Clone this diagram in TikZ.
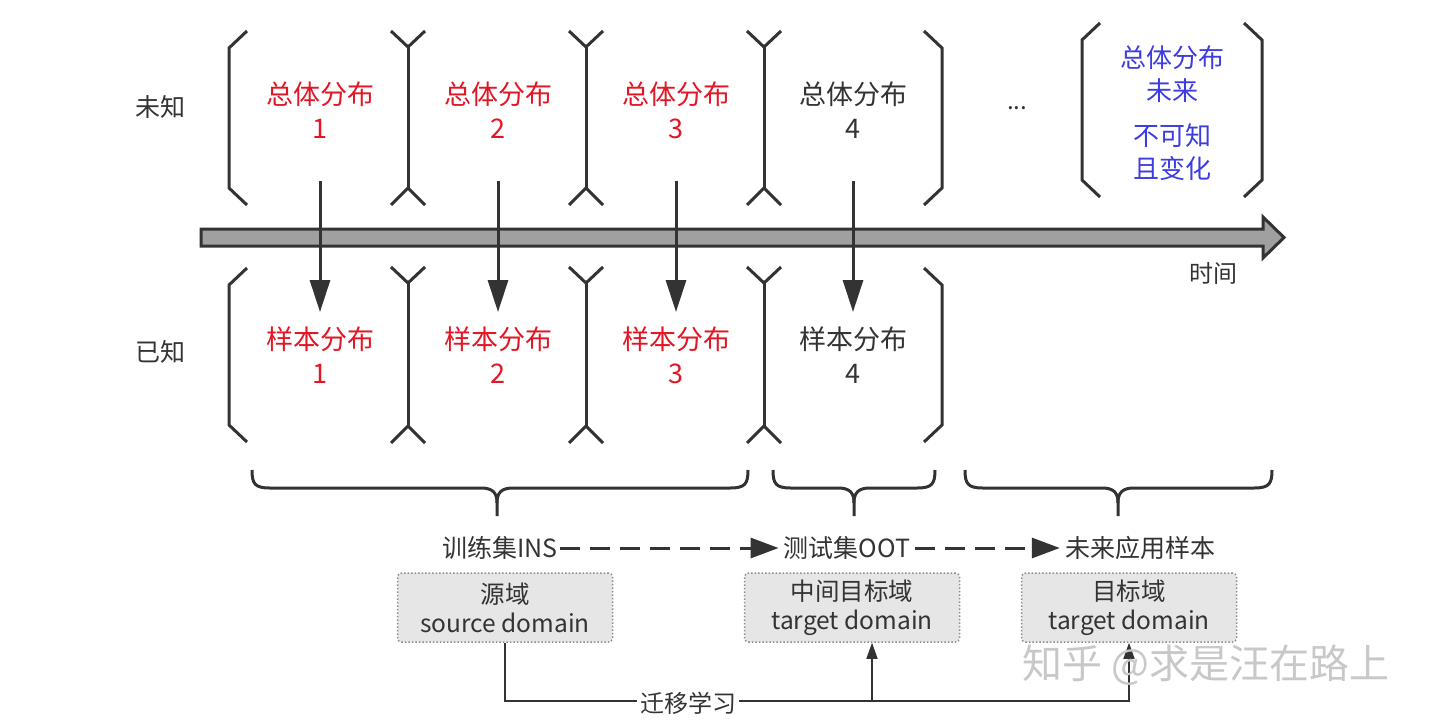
\documentclass[tikz,border=0pt]{standalone}
\usepackage{fontspec}
\newfontfamily\cjk{Noto Sans CJK SC}
\usetikzlibrary{arrows.meta}
\definecolor{lc}{RGB}{51,51,51}
\definecolor{redt}{RGB}{226,22,36}
\definecolor{bluet}{RGB}{60,60,225}
\definecolor{boxf}{RGB}{230,230,230}
\definecolor{boxd}{RGB}{140,140,140}
\definecolor{arrf}{RGB}{160,160,160}
\definecolor{wm}{RGB}{200,200,200}
\newcommand\myfork[3]{% x, top fork end y, bottom fork end y
  \draw[br] ({#1-17},#2) -- (#1,{#2+16}) -- ({#1+17},#2);
  \draw[br] (#1,{#2+16}) -- (#1,{#3-17});
  \draw[br] ({#1-17},#3) -- (#1,{#3-17}) -- ({#1+17},#3);
}
\newcommand\mylbr[3]{% x, top, bottom  (opening bracket)
  \draw[br] ({#1+18},#2) -- (#1,{#2+17}) -- (#1,{#3-17}) -- ({#1+18},#3);
}
\newcommand\myrbr[3]{% x, top, bottom  (closing bracket)
  \draw[br] ({#1-18},#2) -- (#1,{#2+17}) -- (#1,{#3-17}) -- ({#1-18},#3);
}
\newcommand\mybrace[3]{% left x, middle x, right x
  \draw[br] (#1,470) .. controls (#1,484) and ({#1+3},488) .. ({#1+18},488)
     -- ({#2-16},488) .. controls ({#2-4},488) and (#2,493) .. (#2,503) -- (#2,516);
  \draw[br] (#3,470) .. controls (#3,484) and ({#3-3},488) .. ({#3-18},488)
     -- ({#2+16},488) .. controls ({#2+4},488) and (#2,493) .. (#2,503);
}
\begin{document}
\begin{tikzpicture}[x=1pt,y=-1pt,
  br/.style={draw=lc,line width=3pt,line join=miter},
  dist/.style={font=\cjk\fontsize{27}{34}\selectfont,align=center,inner sep=0pt},
  fut/.style={font=\cjk\fontsize{26}{33}\selectfont,align=center,inner sep=0pt,text=bluet},
  lbl/.style={font=\cjk\fontsize{24}{28}\selectfont,text=lc,inner sep=2pt},
  varrow/.style={draw=lc,line width=3pt,-{Triangle[length=32pt,width=20pt]}},
  darrow/.style={draw=lc,line width=3pt,dash pattern=on 20pt off 10pt,-{Triangle[length=28pt,width=20pt]}},
  dom/.style={draw=boxd,dotted,line width=1.5pt,fill=boxf,rounded corners=4pt,
    minimum width=215pt,minimum height=69pt,align=center,
    font=\cjk\fontsize{24.5}{29}\selectfont,text=lc},
  conn/.style={draw=lc,line width=1.6pt},
  carrow/.style={draw=lc,line width=1.6pt,-{Triangle[length=16pt,width=11pt]}}
]
\useasboundingbox (0,0) rectangle (1440,725);

% row labels
\node[lbl,font=\cjk\fontsize{25}{28}\selectfont] (unk) at (160,107) {未知};
\node[lbl,font=\cjk\fontsize{25}{28}\selectfont] (kn) at (160,352) {已知};

% top row brackets
\mylbr{229}{31}{205}
\myfork{408}{31}{205}
\myfork{586}{31}{205}
\myfork{764}{31}{205}
\myrbr{942}{31}{205}
\mylbr{1082}{23}{197}
\myrbr{1262}{23}{197}

% bottom row brackets
\mylbr{229}{268}{442}
\myfork{408}{267}{443}
\myfork{586}{267}{443}
\myfork{764}{267}{443}
\myrbr{942}{268}{442}

% top texts
\node[dist,text=redt] (p1) at (320,110) {总体分布\\1};
\node[dist,text=redt] (p2) at (498,110) {总体分布\\2};
\node[dist,text=redt] (p3) at (676,110) {总体分布\\3};
\node[dist,text=lc] (p4) at (853,110) {总体分布\\4};
\node[lbl] (dots) at (1017,108) {...};
\node[fut] (p5) at (1172,74) {总体分布\\未来};
\node[fut] (p5b) at (1172,152) {不可知\\且变化};

% bottom texts
\node[dist,text=redt] (s1) at (320,355) {样本分布\\1};
\node[dist,text=redt] (s2) at (498,355) {样本分布\\2};
\node[dist,text=redt] (s3) at (676,355) {样本分布\\3};
\node[dist,text=lc] (s4) at (853,355) {样本分布\\4};

% time arrow
\draw[draw=lc,fill=arrf,line width=3pt,line join=miter]
  (201,229) -- (1263,229) -- (1263,217) -- (1284,237.5) -- (1263,258) -- (1263,246) -- (201,246) -- cycle;
\node[lbl] (time) at (1213,273) {时间};

% vertical arrows
\foreach \i/\x in {1/320,2/498,3/676,4/853}{
  \coordinate (a\i) at (\x,181);
  \coordinate (b\i) at (\x,312);
  \draw[varrow] (a\i) -- (b\i);
}

% braces
\mybrace{252}{497}{748}
\mybrace{773}{854}{935}
\mybrace{965}{1118}{1272}

% set labels
\node[lbl,font=\cjk\fontsize{25}{28}\selectfont] (ins) at (500,548) {训练集INS};
\node[lbl,font=\cjk\fontsize{25}{28}\selectfont,inner sep=5pt] (oot) at (847,548) {测试集OOT};
\node[lbl,font=\cjk\fontsize{25}{28}\selectfont,inner sep=5pt] (fut) at (1140,548) {未来应用样本};
\draw[darrow] (ins.east) -- (oot.west);
\draw[darrow] (oot.east) -- (fut.west);

% domain boxes
\node[dom] (d1) at (505,607.5) {源域\\source domain};
\node[dom] (d2) at (852,607.5) {中间目标域\\target domain};
\node[dom] (d3) at (1129,607.5) {目标域\\target domain};

% transfer connector
\coordinate (bl) at (505,701);
\coordinate (bm) at (872,701);
\coordinate (brr) at (1129,701);
\draw[carrow] (d1.south) -- (bl) -- (brr) -- (d3.south);
\draw[carrow] (bm) -- (bm |- d2.south);
\node[lbl,fill=white,inner sep=3pt] (tl) at (688,703) {迁移学习};

% watermark
\node[font=\cjk\fontsize{40}{44}\selectfont,text=wm] (wmk) at (1206,665) {知乎 @求是汪在路上};
\end{tikzpicture}
\end{document}
